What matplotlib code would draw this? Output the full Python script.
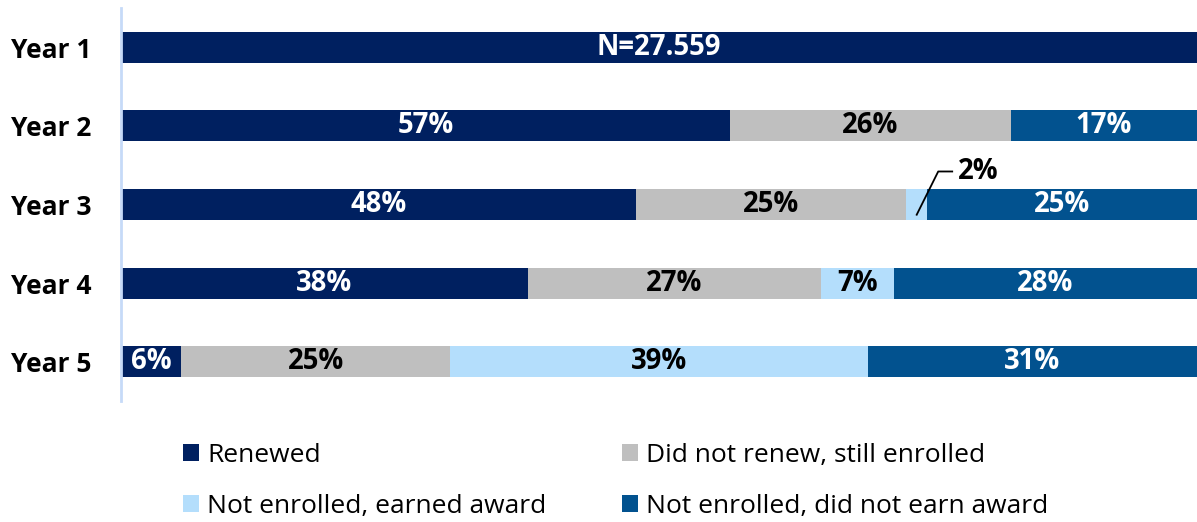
import matplotlib
matplotlib.use("Agg")
import matplotlib.pyplot as plt
from matplotlib.patches import Patch

plt.rcParams['font.family'] = ['Open Sans', 'DejaVu Sans']

years = ["Year 1", "Year 2", "Year 3", "Year 4", "Year 5"]
series_names = ["Renewed", "Did not renew, still enrolled",
                "Not enrolled, earned award", "Not enrolled, did not earn award"]
renewed = [100.0, 56.6, 47.9, 37.8, 5.6]
not_renew_enrolled = [0.0, 26.1, 25.1, 27.3, 25.0]
earned_award = [0.0, 0.0, 1.9, 6.7, 38.8]
no_award = [0.0, 17.3, 25.1, 28.2, 30.6]
year1_label = "N=27.559"
colors = ["#002060", "#BFBFBF", "#B4DEFC", "#02528F"]
text_colors = ["white", "black", "black", "white"]

series = [renewed, not_renew_enrolled, earned_award, no_award]

W, H = 1197, 522
fig = plt.figure(figsize=(W / 100, H / 100), dpi=100)
ax = fig.add_axes([121 / W, (H - 401) / H, 1 - 121 / W, 393 / H])

FS = 19
LFS = 19.8
ypos = list(range(len(years)))
left = [0.0] * len(years)
for si, vals in enumerate(series):
    ax.barh(ypos, vals, left=left, height=0.395, color=colors[si], linewidth=0)
    for i, v in enumerate(vals):
        if v <= 0:
            continue
        cx = left[i] + v / 2
        if i == 0 and si == 0:
            ax.text(cx, i, year1_label, ha="center", va="center", color="white",
                    fontsize=LFS, fontweight="bold")
        elif v >= 4:
            ax.text(cx, i, f"{round(v)}%", ha="center", va="center",
                    color=text_colors[si], fontsize=LFS, fontweight="bold")
        else:
            # leader line label for small segment
            x0 = left[i] + v / 2
            ax.plot([x0, x0 + 2.0, x0 + 3.3], [i + 0.13, i - 0.42, i - 0.42],
                    color="black", lw=1.3, clip_on=False)
            ax.text(x0 + 3.8, i - 0.42, f"{round(v)}%", ha="left", va="center",
                    color="black", fontsize=LFS, fontweight="bold")
    left = [l + v for l, v in zip(left, vals)]

ax.set_xlim(0, 100)
ax.set_ylim(4.5, -0.5)
ax.set_yticks(ypos)
ax.set_yticklabels(years, fontsize=FS, fontweight="bold")
ax.tick_params(axis="y", length=0, pad=21)
ax.set_xticks([])
for s in ["top", "right", "bottom"]:
    ax.spines[s].set_visible(False)
ax.spines["left"].set_color("#C6DAF8")
ax.spines["left"].set_linewidth(2)

handles = [Patch(facecolor=c, edgecolor="none") for c in colors]
order = [0, 2, 1, 3]
fig.legend([handles[k] for k in order], [series_names[k] for k in order],
           ncol=2, loc="center left", bbox_to_anchor=(183 / W, (H - 481) / H),
           frameon=False, fontsize=FS, handlelength=0.62, handleheight=0.62,
           handletextpad=0.3, columnspacing=2.85, labelspacing=1.0,
           borderpad=0, borderaxespad=0)

fig.savefig("out.png", dpi=100)
